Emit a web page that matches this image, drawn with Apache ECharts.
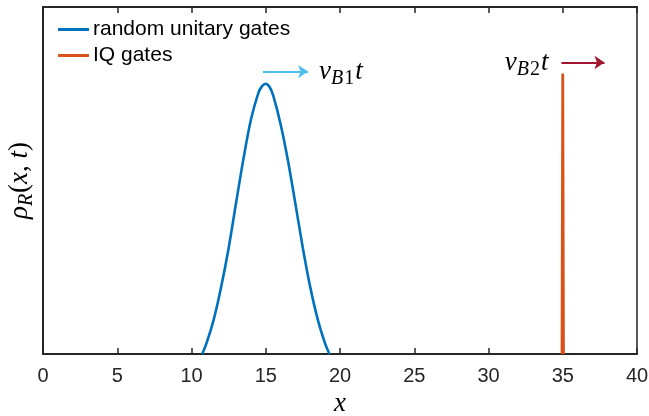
<!DOCTYPE html>
<html>
<head>
<meta charset="utf-8">
<script src="https://cdn.jsdelivr.net/npm/echarts@6/dist/echarts.min.js"></script>
<style>html,body{margin:0;padding:0;background:#fff;}#c{width:649px;height:416px;}</style>
</head>
<body>
<div id="c"></div>
<script>
// ---- data ----
const xMin = 0, xMax = 40, xStep = 5;
const blueX = [10.72, 11.0, 11.5, 12.0, 12.5, 13.0, 13.5, 14.0, 14.5, 14.75, 15.0, 15.25, 15.5, 16.0, 16.5, 17.0, 17.5, 18.0, 18.5, 19.0, 19.29];
const blueY = [0, 0.030, 0.100, 0.194, 0.305, 0.435, 0.563, 0.675, 0.752, 0.772, 0.779, 0.770, 0.745, 0.662, 0.556, 0.432, 0.305, 0.192, 0.100, 0.030, 0];
const iqX = [34.95, 35.0, 35.05];
const iqY = [0, 0.805, 0];
const arrow1 = [[14.81, 0.814], [17.85, 0.814]];
const arrow2 = [[34.91, 0.840], [37.81, 0.840]];
const seriesNames = ['random unitary gates', 'IQ gates'];

const pair = (xs, ys) => xs.map((x, i) => [x, ys[i]]);
const serif = 'Liberation Serif';
const mathRich = {
  v: {fontFamily: serif, fontStyle: 'italic', fontSize: 27, color: '#000'},
  n: {fontFamily: serif, fontStyle: 'normal', fontSize: 27, color: '#000'},
  b: {fontFamily: serif, fontStyle: 'italic', fontSize: 20, color: '#000', padding: [14, 1, 0, 0]},
  s: {fontFamily: serif, fontStyle: 'normal', fontSize: 20, color: '#000', padding: [14, 1, 0, 0]}
};

const chart = echarts.init(document.getElementById('c'), null, {renderer: 'canvas'});
const axisCol = '#262626';
chart.setOption({
  animation: false,
  backgroundColor: '#fff',
  grid: {left: 43, right: 12, top: 7, bottom: 62, show: true, borderColor: axisCol, borderWidth: 1.5,
         containLabel: false, outerBoundsMode: 'none'},
  legend: {
    data: seriesNames,
    orient: 'vertical', left: 58, top: 19, padding: 0, itemWidth: 31, itemHeight: 3, itemGap: 5,
    icon: 'rect',
    textStyle: {fontFamily: 'Liberation Sans', fontSize: 21, color: '#000', padding: [0, 0, 0, -1]}
  },
  xAxis: [{
    type: 'value', min: xMin, max: xMax, interval: xStep,
    name: '{v|x}', nameLocation: 'middle', nameGap: 36,
    nameTextStyle: {rich: mathRich},
    axisLine: {show: true, lineStyle: {color: axisCol, width: 2}},
    axisTick: {show: true, inside: true, length: 6, lineStyle: {color: axisCol, width: 1.5}},
    axisLabel: {fontFamily: 'Liberation Sans', fontSize: 20, color: axisCol, margin: 12},
    splitLine: {show: false}
  }, {
    type: 'value', position: 'top', min: xMin, max: xMax, interval: xStep,
    axisLine: {show: true, lineStyle: {color: axisCol, width: 2}},
    axisTick: {show: true, inside: true, length: 6, lineStyle: {color: axisCol, width: 1.5}},
    axisLabel: {show: false}, splitLine: {show: false}
  }],
  yAxis: {
    type: 'value', min: 0, max: 1,
    name: '{v|ρ}{b|R}{n|(}{v|x}{n|, }{v|t}{n|)}', nameLocation: 'middle', nameGap: 6, nameRotate: 90,
    nameTextStyle: {rich: mathRich},
    axisLine: {show: true, lineStyle: {color: axisCol, width: 2}},
    axisTick: {show: false}, axisLabel: {show: false}, splitLine: {show: false}
  },
  series: [{
    name: seriesNames[0], type: 'line', data: pair(blueX, blueY), smooth: 0.3,
    showSymbol: false, symbol: 'none', color: '#0072BD', lineStyle: {width: 2.6, color: '#0072BD'}, z: 3
  }, {
    name: seriesNames[1], type: 'line', data: pair(iqX, iqY),
    showSymbol: false, symbol: 'none', color: '#D95319', lineStyle: {width: 2.8, color: '#D95319', join: 'round'}, z: 3
  }, {
    type: 'lines', coordinateSystem: 'cartesian2d', polyline: false,
    symbol: ['none', 'arrow'], symbolSize: 10,
    lineStyle: {color: '#4DBEEE', width: 2, opacity: 1, curveness: 0},
    label: {show: true, position: 'end', distance: 11, formatter: '{v|v}{b|B}{s|1}{v|t}', rich: mathRich},
    data: [{coords: arrow1}], z: 4
  }, {
    type: 'lines', coordinateSystem: 'cartesian2d', polyline: false,
    symbol: ['none', 'arrow'], symbolSize: 10,
    lineStyle: {color: '#A2142F', width: 2, opacity: 1, curveness: 0},
    label: {show: true, position: 'start', distance: 13, formatter: '{v|v}{b|B}{s|2}{v|t}', rich: mathRich},
    data: [{coords: arrow2}], z: 4
  }]
});
</script>
</body>
</html>
